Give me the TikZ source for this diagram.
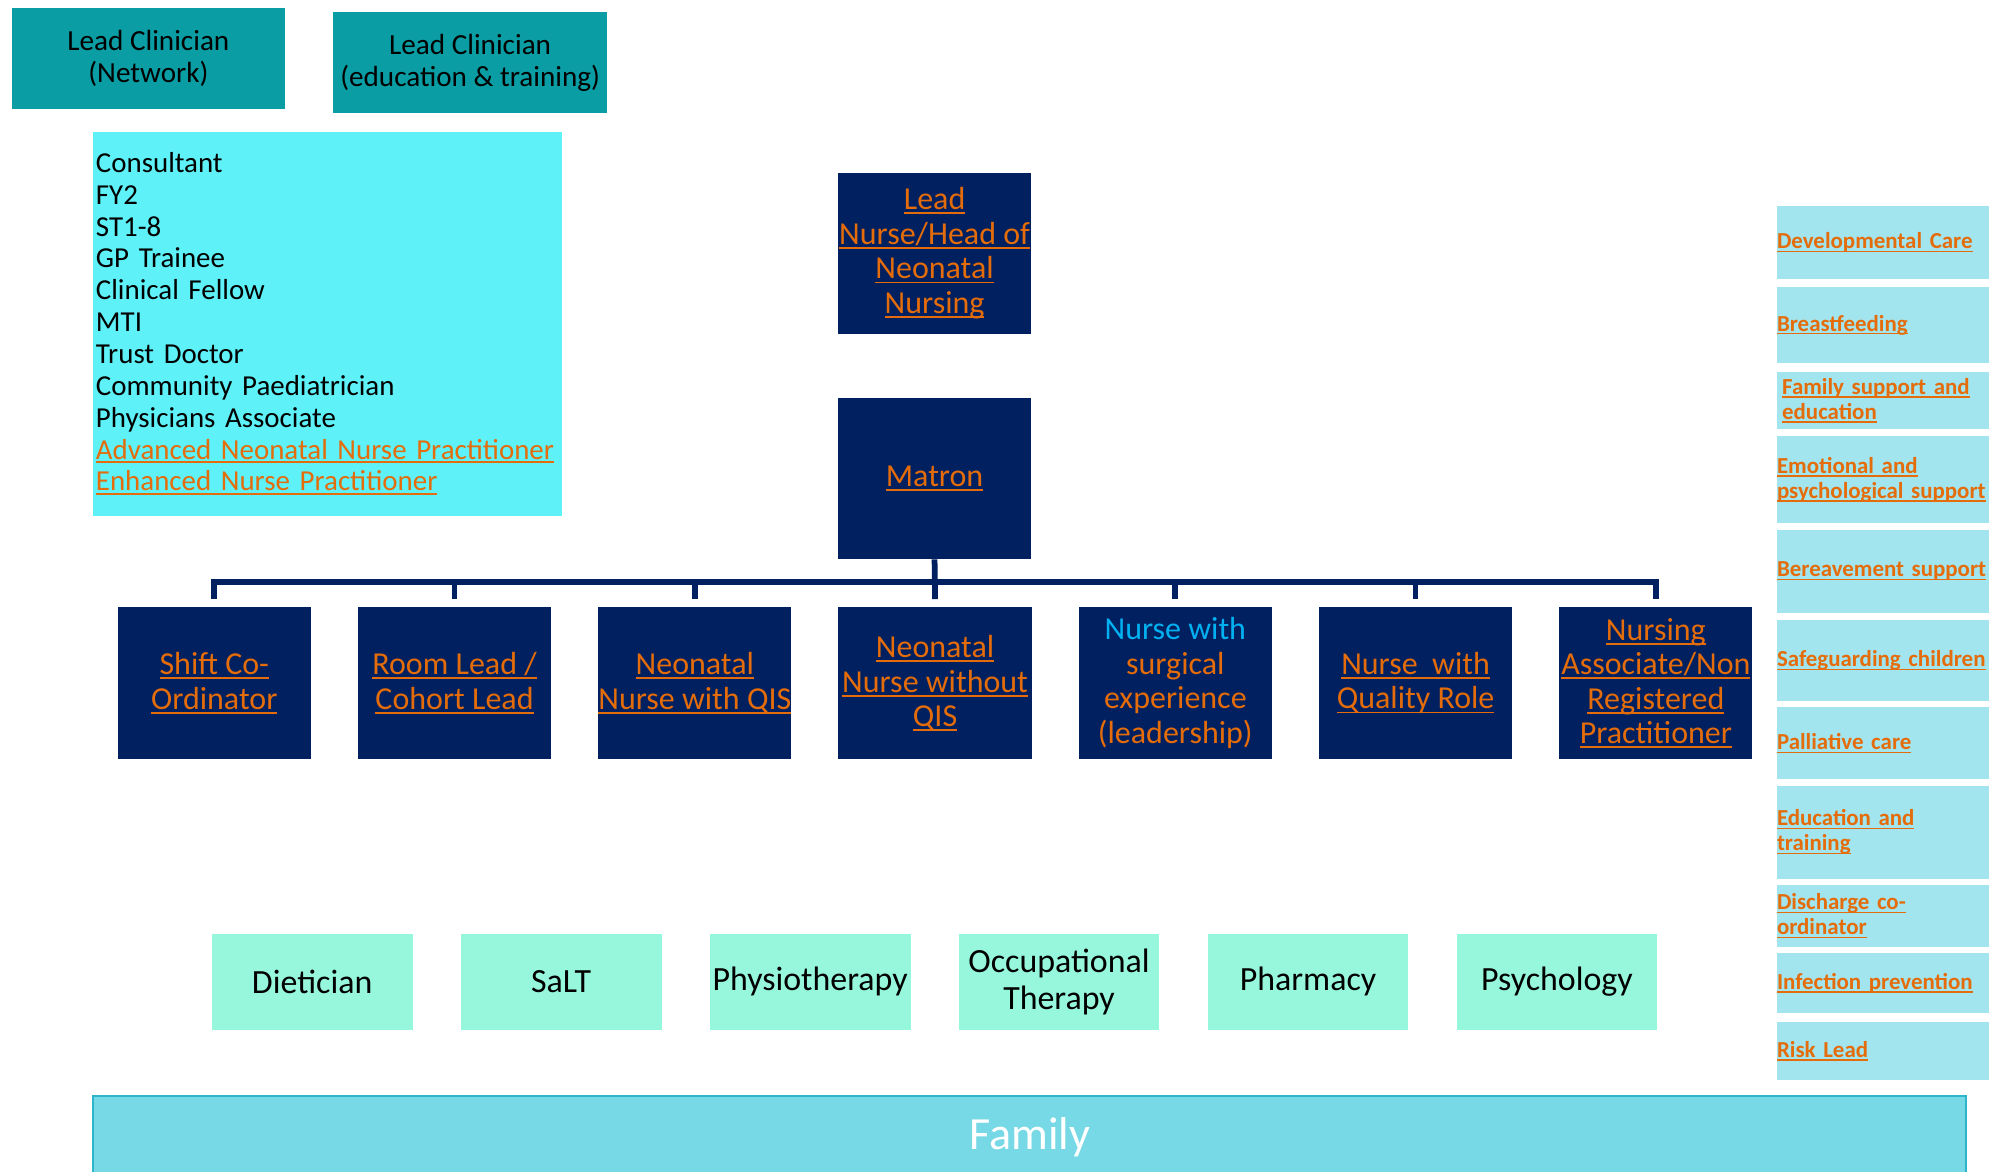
\documentclass[tikz,border=0pt]{standalone}
\usepackage{fontspec}
\setmainfont{Carlito}
\usetikzlibrary{calc}

\definecolor{leadteal}{HTML}{0A9DA4}
\definecolor{listcyan}{HTML}{5EF1F7}
\definecolor{navy}{HTML}{002060}
\definecolor{linkorange}{HTML}{E46C0A}
\definecolor{skytext}{HTML}{00B0F0}
\definecolor{mint}{HTML}{96F7DC}
\definecolor{paleblue}{HTML}{A3E5EF}
\definecolor{famblue}{HTML}{77D8E6}
\definecolor{famedge}{HTML}{2FB5CB}

% underlined link text
\newcommand{\lnk}[1]{\begingroup\setbox0=\hbox{#1}\leavevmode\rlap{\rule[-0.14em]{\wd0}{0.06em}}\box0\endgroup}

\tikzset{
	leadbox/.style={fill=leadteal, minimum width=214pt, minimum height=79pt, inner sep=0pt, align=center, font=\fontsize{22.8}{25}\selectfont},
	gradebox/.style={fill=listcyan, minimum width=366pt, minimum height=300pt, text width=362pt, inner xsep=2pt, align=left, font=\fontsize{22.6}{24.9}\selectfont},
	nursebox/.style={fill=navy, text=linkorange, minimum width=151pt, inner sep=0pt, align=center, font=\fontsize{25}{27}\selectfont},
	ahpbox/.style={fill=mint, minimum width=157pt, minimum height=75pt, inner sep=0pt, align=center, font=\fontsize{26.5}{29}\selectfont},
	topicbox/.style={fill=paleblue, text=linkorange, text width=166pt, inner sep=0pt, align=left, font=\bfseries\fontsize{17.9}{19.5}\selectfont},
	familybox/.style={fill=famblue, draw=famedge, line width=1.5pt, minimum width=1464pt, minimum height=64pt, text=white, font=\fontsize{36}{40}\selectfont},
	tree/.style={draw=navy, line width=4.5pt},
}

\begin{document}
\begin{tikzpicture}[x=1pt, y=-1pt]
	\useasboundingbox (0,0) rectangle (1568,916);
	\clip (0,0) rectangle (1568,916);
	
	\def\rowx{167.5}   % first nurse column
	\def\rowstep{187.8}
	\def\ahpx{244}     % first therapy column
	\def\ahpstep{194.6}
	
	% medical side
	\node[leadbox] (lcnet) at (116,45.5) {Lead Clinician\\(Network)};
	\node[leadbox] (lcedu) at (367.5,49) {Lead Clinician\\(education \& training)};
	\node[gradebox] (grades) at (256,253) {Consultant\\FY2\\ST1-8\\GP Trainee\\Clinical Fellow\\MTI\\Trust Doctor\\Community Paediatrician\\Physicians Associate\\{\color{linkorange}\lnk{Advanced Neonatal Nurse Practitioner}}\\{\color{linkorange}\lnk{Enhanced Nurse Practitioner}}};
	
	% nursing line
	\node[nursebox, minimum height=126pt] (leadnurse) at (730.5,198) {\lnk{Lead}\\\lnk{Nurse/Head of}\\\lnk{Neonatal}\\\lnk{Nursing}};
	\node[nursebox, minimum height=126pt] (matron) at (730.5,374) {\lnk{Matron}};
	
	\foreach \i/\txt in {1/{\lnk{Shift Co-}\\\lnk{Ordinator}},
		2/{\lnk{Room Lead /}\\\lnk{Cohort Lead}},
		3/{\lnk{Neonatal}\\\lnk{Nurse with QIS}},
		4/{\lnk{Neonatal}\\\lnk{Nurse without}\\\lnk{QIS}},
		5/{\color{skytext}Nurse with\\surgical\\experience\\(leadership)},
		6/{\lnk{Nurse\ \ with}\\\lnk{Quality Role}},
		7/{\lnk{Nursing}\\\lnk{Associate/Non}\\\lnk{Registered}\\\lnk{Practitioner}}}{
		\pgfmathsetmacro{\x}{\rowx+\rowstep*(\i-1)}
		\node[nursebox, minimum height=119pt] (r\i) at (\x,534) {\txt};
	}
	
	\coordinate (bar) at (730.5,455);
	\draw[tree] ([yshift=6pt]r1.north) |- (bar) -| ([yshift=6pt]r7.north);
	\draw[tree] (matron.south) -- ([yshift=6pt]r4.north);
	\foreach \i in {2,3,5,6}{
		\draw[tree] ([yshift=6pt]r\i.north) -- (r\i |- bar);
	}
	
	% therapies
	\foreach \i/\txt in {1/Dietician, 2/SaLT, 3/Physiotherapy, 4/{Occupational\\Therapy}, 5/Pharmacy, 6/Psychology}{
		\pgfmathsetmacro{\x}{\ahpx+\ahpstep*(\i-1)}
		\node[ahpbox] (a\i) at (\x,767.5) {\txt};
	}
	
	% special interest leads
	\foreach \i/\top/\bot/\txt in {1/161/218/{\lnk{Developmental Care}},
		2/224/284/{\lnk{Breastfeeding}},
		3/291/335/{\hspace*{4pt}\lnk{Family support and}\\\hspace*{4pt}\lnk{education}},
		4/341/409/{\lnk{Emotional and}\\\lnk{psychological support}},
		5/414/479/{\lnk{Bereavement support}},
		6/485/548/{\lnk{Safeguarding children}},
		7/553/609/{\lnk{Palliative care}},
		8/614/687/{\lnk{Education and}\\\lnk{training}},
		9/692/740/{\lnk{Discharge co-}\\\lnk{ordinator}},
		10/745/792/{\lnk{Infection prevention}},
		11/799/844/{\lnk{Risk Lead}}}{
		\pgfmathsetmacro{\h}{\bot-\top}
		\pgfmathsetmacro{\y}{(\top+\bot)/2}
		\node[topicbox, minimum height=\h pt] (s\i) at (1472,\y) {\txt};
	}
	
	\node[familybox] (family) at (805,889) {Family};
\end{tikzpicture}
\end{document}
